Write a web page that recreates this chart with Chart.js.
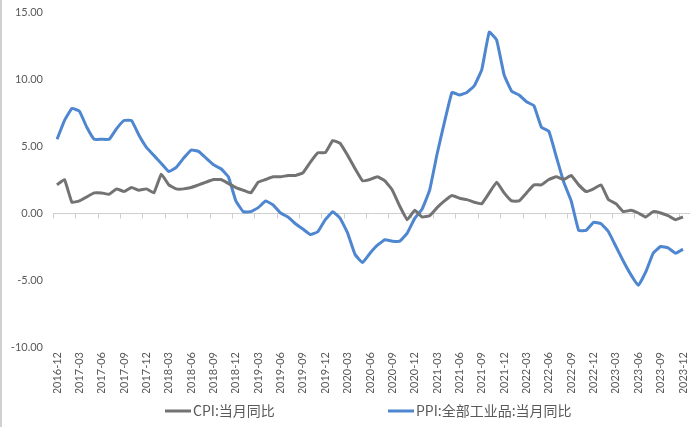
<!DOCTYPE html>
<html>
<head>
<meta charset="utf-8">
<script src="https://cdn.jsdelivr.net/npm/chart.js@4.4.1/dist/chart.umd.min.js"></script>
<style>
  html, body { margin: 0; padding: 0; background: #fff; }
  #wrap { width: 700px; height: 427px; position: relative; }
</style>
</head>
<body>
<div id="wrap"><canvas id="c"></canvas></div>
<script>
// months 2016-12 .. 2023-12
const months = ['2016-12'];
for (let y = 2017; y <= 2023; y++) {
  for (let m = 1; m <= 12; m++) months.push(y + '-' + String(m).padStart(2, '0'));
}

// CPI:当月同比
const cpi = [
  2.1,
  2.5, 0.8, 0.9, 1.2, 1.5, 1.5, 1.4, 1.8, 1.6, 1.9, 1.7, 1.8,
  1.5, 2.9, 2.1, 1.8, 1.8, 1.9, 2.1, 2.3, 2.5, 2.5, 2.2, 1.9,
  1.7, 1.5, 2.3, 2.5, 2.7, 2.7, 2.8, 2.8, 3.0, 3.8, 4.5, 4.5,
  5.4, 5.2, 4.3, 3.3, 2.4, 2.5, 2.7, 2.4, 1.7, 0.5, -0.5, 0.2,
  -0.3, -0.2, 0.4, 0.9, 1.3, 1.1, 1.0, 0.8, 0.7, 1.5, 2.3, 1.5,
  0.9, 0.9, 1.5, 2.1, 2.1, 2.5, 2.7, 2.5, 2.8, 2.1, 1.6, 1.8,
  2.1, 1.0, 0.7, 0.1, 0.2, 0.0, -0.3, 0.1, 0.0, -0.2, -0.5, -0.3
];

// PPI:全部工业品:当月同比
const ppi = [
  5.5,
  6.9, 7.8, 7.6, 6.4, 5.5, 5.5, 5.5, 6.3, 6.9, 6.9, 5.8, 4.9,
  4.3, 3.7, 3.1, 3.4, 4.1, 4.7, 4.6, 4.1, 3.6, 3.3, 2.7, 0.9,
  0.1, 0.1, 0.4, 0.9, 0.6, 0.0, -0.3, -0.8, -1.2, -1.6, -1.4, -0.5,
  0.1, -0.4, -1.5, -3.1, -3.7, -3.0, -2.4, -2.0, -2.1, -2.1, -1.5, -0.4,
  0.3, 1.7, 4.4, 6.8, 9.0, 8.8, 9.0, 9.5, 10.7, 13.5, 12.9, 10.3,
  9.1, 8.8, 8.3, 8.0, 6.4, 6.1, 4.2, 2.3, 0.9, -1.3, -1.3, -0.7,
  -0.8, -1.4, -2.5, -3.6, -4.6, -5.4, -4.4, -3.0, -2.5, -2.6, -3.0, -2.7
];

const yTicks = [-10, -5, 0, 5, 10, 15];
const seriesNames = ['CPI:当月同比', 'PPI:全部工业品:当月同比'];
const grayLine = '#737373';
const blueLine = '#4e86d0';
const textColor = '#595959';

// zero axis line with small tick marks every 3 months, plus the left frame edge
const zeroAxis = {
  id: 'zeroAxis',
  beforeDatasetsDraw(chart) {
    const { ctx, scales: { x, y }, chartArea } = chart;
    const y0 = Math.round(y.getPixelForValue(0)) + 0.5;
    ctx.save();
    ctx.strokeStyle = '#cfcfcf';
    ctx.lineWidth = 1;
    ctx.beginPath();
    ctx.moveTo(chartArea.left - 4, y0);
    ctx.lineTo(chartArea.right + 7, y0);
    for (let i = 0; i < months.length; i += 3) {
      const px = Math.round(x.getPixelForValue(i)) - 3.5;
      ctx.moveTo(px, y0);
      ctx.lineTo(px, y0 + 5);
    }
    ctx.stroke();
    ctx.fillStyle = '#d0d0d0';
    ctx.fillRect(0, 0, 2, chart.height);
    ctx.restore();
  }
};

// bottom legend, spaced like the original
const spacedLegend = {
  id: 'spacedLegend',
  afterDraw(chart) {
    const { ctx } = chart;
    const items = [{ x: 165 }, { x: 388 }];
    const yMid = 411;
    ctx.save();
    ctx.font = '14px "Noto Sans CJK SC", "Noto Sans", sans-serif';
    ctx.textBaseline = 'middle';
    chart.data.datasets.forEach((ds, i) => {
      const it = items[i];
      ctx.fillStyle = ds.borderColor;
      ctx.fillRect(it.x, yMid - 1.5, 26, 3);
      ctx.fillStyle = textColor;
      ctx.fillText(ds.label, it.x + 28, yMid);
    });
    ctx.restore();
  }
};

new Chart(document.getElementById('c'), {
  type: 'line',
  data: {
    labels: months,
    datasets: [
      { label: seriesNames[0], data: cpi, borderColor: grayLine, backgroundColor: grayLine,
        borderWidth: 3, pointRadius: 0, tension: 0.1 },
      { label: seriesNames[1], data: ppi, borderColor: blueLine, backgroundColor: blueLine,
        borderWidth: 3, pointRadius: 0, tension: 0.1 }
    ]
  },
  options: {
    responsive: true,
    maintainAspectRatio: false,
    animation: false,
    layout: { padding: { top: 12, right: 17, left: 0, bottom: 34 } },
    plugins: {
      tooltip: { enabled: false },
      legend: { display: false }
    },
    scales: {
      x: {
        offset: false,
        grid: { display: false, drawTicks: false },
        border: { display: false },
        afterFit(scale) {
          scale.height = 46;
          scale.paddingLeft = 0;
          scale.paddingRight = 0;
        },
        ticks: {
          autoSkip: false,
          minRotation: 90,
          maxRotation: 90,
          padding: 5,
          color: textColor,
          font: { family: 'Lato, "Noto Sans", sans-serif', size: 11 },
          callback(v, i) { return i % 3 === 0 ? months[i] : null; }
        }
      },
      y: {
        min: yTicks[0],
        max: yTicks[yTicks.length - 1],
        afterBuildTicks(scale) { scale.ticks = yTicks.map(v => ({ value: v })); },
        afterFit(scale) {
          scale.width = 57;
          scale.paddingTop = 0;
          scale.paddingBottom = 0;
        },
        grid: { display: false, drawTicks: false },
        border: { display: false },
        ticks: {
          padding: 14,
          color: textColor,
          font: { family: 'Lato, "Noto Sans", sans-serif', size: 11 },
          callback(v) { return v.toFixed(2); }
        }
      }
    }
  },
  plugins: [zeroAxis, spacedLegend]
});
</script>
</body>
</html>
